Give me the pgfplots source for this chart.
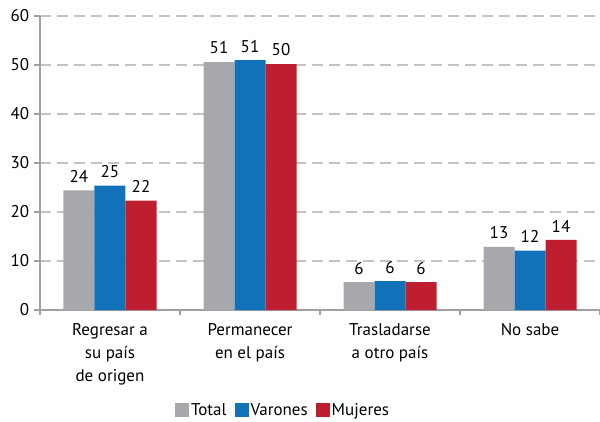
\documentclass[border=0pt]{standalone}
\usepackage{pgfplots}
\pgfplotsset{compat=1.18}
\usepackage{fontspec}
\setmainfont{PT Sans}
\definecolor{cgray}{RGB}{167,168,172}
\definecolor{cblue}{RGB}{17,114,186}
\definecolor{cred}{RGB}{190,30,45}
\definecolor{axgray}{RGB}{160,160,160}
\definecolor{gridgray}{RGB}{195,195,195}
\begin{document}
\fontsize{17bp}{20bp}\selectfont
\begin{tikzpicture}
\path[use as bounding box] (-40bp,-112bp) rectangle (560bp,310bp);
\begin{axis}[
  at={(0,0)}, anchor=south west,
  scale only axis, width=560bp, height=294bp,
  ymin=0, ymax=60, xmin=-0.5, xmax=3.5,
  ybar=0pt, bar width=31bp,
  axis lines*=left,
  axis line style={axgray, line width=1.2bp},
  ytick={0,10,...,60},
  ymajorgrids,
  grid style={gridgray, dash pattern=on 11bp off 6bp, line width=1.2bp},
  y tick style={axgray, line width=1.2bp},
  tick align=outside, major tick length=6bp,
  xtick={0,1,2,3},
  xticklabels={{Regresar a\\su país\\de origen},{Permanecer\\en el país},{Trasladarse\\a otro país},{No sabe}},
  x tick style={draw=none},
  xticklabel style={align=center, font=\fontsize{17bp}{23bp}\selectfont, yshift=-2bp},
  extra x ticks={-0.5,0.5,1.5,2.5,3.5},
  extra x tick labels={},
  extra x tick style={x tick style={axgray, line width=1.2bp, draw=axgray}, major tick length=5bp},
  /pgf/number format/assume math mode=true,
  tick label style={font=\fontsize{17bp}{20bp}\selectfont, black},
  yticklabel style={xshift=1bp},
  nodes near coords={\pgfmathprintnumber[fixed,precision=0]{\pgfplotspointmeta}},
  every node near coord/.append style={font=\fontsize{17bp}{20bp}\selectfont, black, yshift=2bp},
  legend style={at={(0.434,-0.344)}, anchor=center, draw=none, fill=none,
    legend columns=-1, font=\fontsize{17bp}{20bp}\selectfont,
    /tikz/every even column/.append style={column sep=6bp}},
  legend image code/.code={\fill[#1] (0bp,-6bp) rectangle (14bp,8bp);},
]
\addplot[fill=cgray, draw=none] coordinates {(0,24.4) (1,50.6) (2,5.7) (3,12.9)};
\addplot[fill=cblue, draw=none] coordinates {(0,25.4) (1,51.0) (2,5.9) (3,12.1)};
\addplot[fill=cred, draw=none] coordinates {(0,22.3) (1,50.2) (2,5.7) (3,14.3)};
\legend{Total, Varones, Mujeres}
\end{axis}
\end{tikzpicture}
\end{document}
